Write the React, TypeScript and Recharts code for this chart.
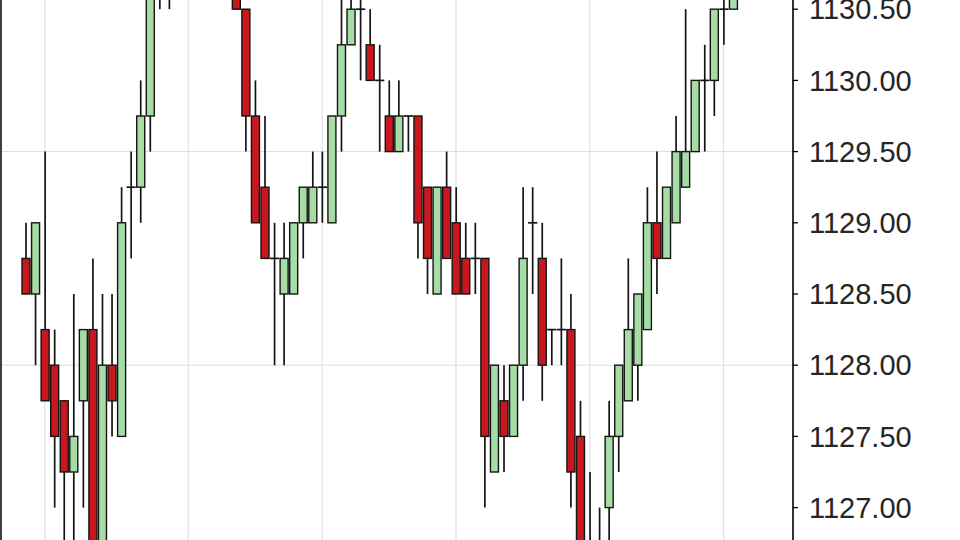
import React from 'react';
import { ComposedChart, Bar, XAxis, YAxis, CartesianGrid } from 'recharts';

// OHLC values (0.25 point steps); bars 16-21 sit above the visible area
const opens = [
  1128.75, 1128.5, 1128.25, 1128.0, 1127.75, 1127.25, 1127.75, 1128.25, 1126.5, 1128.0,
  1127.5, 1129.25, 1129.25, 1129.75, 1130.75, 1131.0, 1130.75, 1131.25, 1131.5, 1131.25,
  1131.5, 1131.0, 1130.75, 1130.5, 1129.75, 1129.25, 1128.75, 1128.5, 1128.5, 1129.0,
  1129.0, 1129.25, 1129.0, 1129.75, 1130.25, 1130.5, 1130.25, 1130.0, 1129.75, 1129.5,
  1129.75, 1129.75, 1129.25, 1128.5, 1129.25, 1129.0, 1128.75, 1128.75, 1128.75, 1127.25,
  1127.75, 1127.5, 1128.0, 1129.0, 1128.75, 1128.25, 1128.25, 1128.25, 1127.5, 1126.5,
  1126.25, 1127.0, 1127.5, 1127.75, 1128.0, 1128.25, 1129.0, 1128.75, 1129.0, 1129.25,
  1129.5, 1130.0, 1130.0, 1130.5, 1130.5,
];
const highs = [
  1129.0, 1129.0, 1129.5, 1128.25, 1127.75, 1128.5, 1128.25, 1128.75, 1128.5, 1128.5,
  1129.25, 1129.5, 1130.0, 1131.0, 1131.25, 1131.25, 1131.5, 1131.75, 1131.75, 1131.75,
  1131.5, 1131.25, 1131.0, 1130.5, 1130.0, 1129.75, 1129.0, 1129.0, 1129.0, 1129.25,
  1129.5, 1129.5, 1129.75, 1130.75, 1130.75, 1130.75, 1130.5, 1130.25, 1130.0, 1130.0,
  1129.75, 1129.75, 1129.25, 1129.25, 1129.5, 1129.25, 1129.0, 1129.0, 1128.75, 1128.0,
  1128.0, 1128.0, 1129.25, 1129.25, 1129.0, 1128.25, 1128.75, 1128.5, 1127.75, 1127.25,
  1127.0, 1127.75, 1128.0, 1128.75, 1128.5, 1129.25, 1129.5, 1129.25, 1129.75, 1130.5,
  1130.0, 1130.25, 1130.5, 1130.75, 1131.0,
];
const lows = [
  1128.5, 1128.0, 1127.75, 1127.0, 1126.5, 1126.5, 1127.0, 1126.25, 1126.25, 1127.5,
  1127.5, 1128.75, 1129.0, 1129.5, 1130.5, 1130.5, 1130.75, 1131.0, 1131.0, 1131.0,
  1130.75, 1130.75, 1130.5, 1129.5, 1129.0, 1128.75, 1128.0, 1128.0, 1128.5, 1128.75,
  1129.0, 1129.0, 1129.0, 1129.5, 1130.25, 1130.0, 1130.0, 1129.5, 1129.5, 1129.5,
  1129.5, 1128.75, 1128.5, 1128.5, 1128.75, 1128.5, 1128.5, 1128.5, 1127.0, 1127.25,
  1127.25, 1127.5, 1127.75, 1128.5, 1127.75, 1128.0, 1128.0, 1127.0, 1126.25, 1126.0,
  1126.0, 1126.5, 1127.25, 1127.75, 1127.75, 1128.25, 1128.5, 1128.75, 1129.0, 1129.25,
  1129.5, 1129.5, 1129.75, 1130.25, 1130.5,
];
const closes = [
  1128.5, 1129.0, 1127.75, 1127.5, 1127.25, 1127.5, 1128.25, 1126.5, 1128.0, 1127.75,
  1129.0, 1129.25, 1129.75, 1130.75, 1131.0, 1130.75, 1131.25, 1131.5, 1131.25, 1131.5,
  1131.0, 1130.75, 1130.5, 1129.75, 1129.0, 1128.75, 1128.75, 1128.75, 1129.0, 1129.25,
  1129.25, 1129.25, 1129.75, 1130.25, 1130.5, 1130.5, 1130.0, 1130.0, 1129.5, 1129.75,
  1129.75, 1129.0, 1128.75, 1129.25, 1128.75, 1128.5, 1128.5, 1128.75, 1127.5, 1128.0,
  1127.5, 1128.0, 1128.75, 1129.0, 1128.0, 1128.25, 1128.25, 1127.25, 1126.5, 1126.25,
  1126.75, 1127.5, 1128.0, 1128.25, 1128.5, 1129.0, 1128.75, 1129.25, 1129.5, 1129.5,
  1130.0, 1130.0, 1130.5, 1130.5, 1130.75,
];
const barLabels = opens.map((_, i) => `b${i + 1}`);

const priceTicks = [
  1126.0, 1126.5, 1127.0, 1127.5, 1128.0, 1128.5, 1129.0, 1129.5, 1130.0, 1130.5, 1131.0, 1131.5, 1132.0,
];
const gridPrices = [1126.5, 1128.0, 1129.5, 1131.0];
const gridBars = ['b3', 'b18', 'b32', 'b46', 'b60', 'b74'];

const data = barLabels.map((t, i) => ({
  t,
  open: opens[i],
  high: highs[i],
  low: lows[i],
  close: closes[i],
  range: [lows[i], highs[i]],
}));

const RED = '#c8181e';
const GREEN = '#a6dca6';
const INK = '#141414';

const Candle = (props: any) => {
  const { x, y, width, height, payload } = props;
  if (x == null || y == null || payload == null) return null;
  const { open, close, high, low } = payload;
  const top = Math.min(y, y + height);
  const h = Math.abs(height);
  const span = high - low;
  const toY = (p: number) => (span === 0 ? top : top + ((high - p) / span) * h);
  const cx = x + width / 2;
  const yo = toY(open);
  const yc = toY(close);
  const bodyTop = Math.min(yo, yc);
  const bodyH = Math.abs(yo - yc);
  const up = close > open;
  return (
    <g>
      <line x1={cx} x2={cx} y1={top} y2={top + h} stroke={INK} strokeWidth={1.7} />
      {bodyH < 0.5 ? (
        <line x1={x - 0.6} x2={x + width + 0.6} y1={yo} y2={yo} stroke={INK} strokeWidth={1.7} />
      ) : (
        <rect x={x} y={bodyTop} width={width} height={bodyH} fill={up ? GREEN : RED} stroke={INK} strokeWidth={1.4} />
      )}
    </g>
  );
};

const fmt = (v: number) => v.toFixed(2);

export default function App() {
  return (
    <div style={{ position: 'absolute', left: 0, top: 0, width: 960, height: 540, overflow: 'hidden', background: '#ffffff' }}>
      <div style={{ position: 'absolute', left: 0, top: -210 }}>
        <ComposedChart
          width={960}
          height={870}
          data={data}
          margin={{ top: 5.6, right: 0, bottom: 10, left: 0 }}
        >
          <CartesianGrid
            stroke="#dcdcdc"
            strokeWidth={1}
            horizontalValues={gridPrices}
            verticalValues={gridBars}
          />
          <XAxis dataKey="t" type="category" hide padding={{ left: 20, right: 55 }} />
          <YAxis
            yAxisId="frame"
            orientation="left"
            width={1}
            domain={[1126, 1132]}
            type="number"
            tick={false}
            tickLine={false}
            axisLine={{ stroke: '#000', strokeWidth: 1.5 }}
          />
          <YAxis
            orientation="right"
            width={167}
            type="number"
            domain={[1126, 1132]}
            ticks={priceTicks}
            interval={0}
            tickFormatter={fmt}
            tickSize={5}
            tickMargin={11}
            axisLine={{ stroke: '#000', strokeWidth: 1.6 }}
            tickLine={{ stroke: '#000', strokeWidth: 1.3 }}
            tick={{ fill: '#262626', fontSize: 29, fontFamily: '"Liberation Sans", Arial, sans-serif' }}
          />
          <Bar dataKey="range" barSize={8} shape={Candle} isAnimationActive={false} />
        </ComposedChart>
      </div>
    </div>
  );
}
